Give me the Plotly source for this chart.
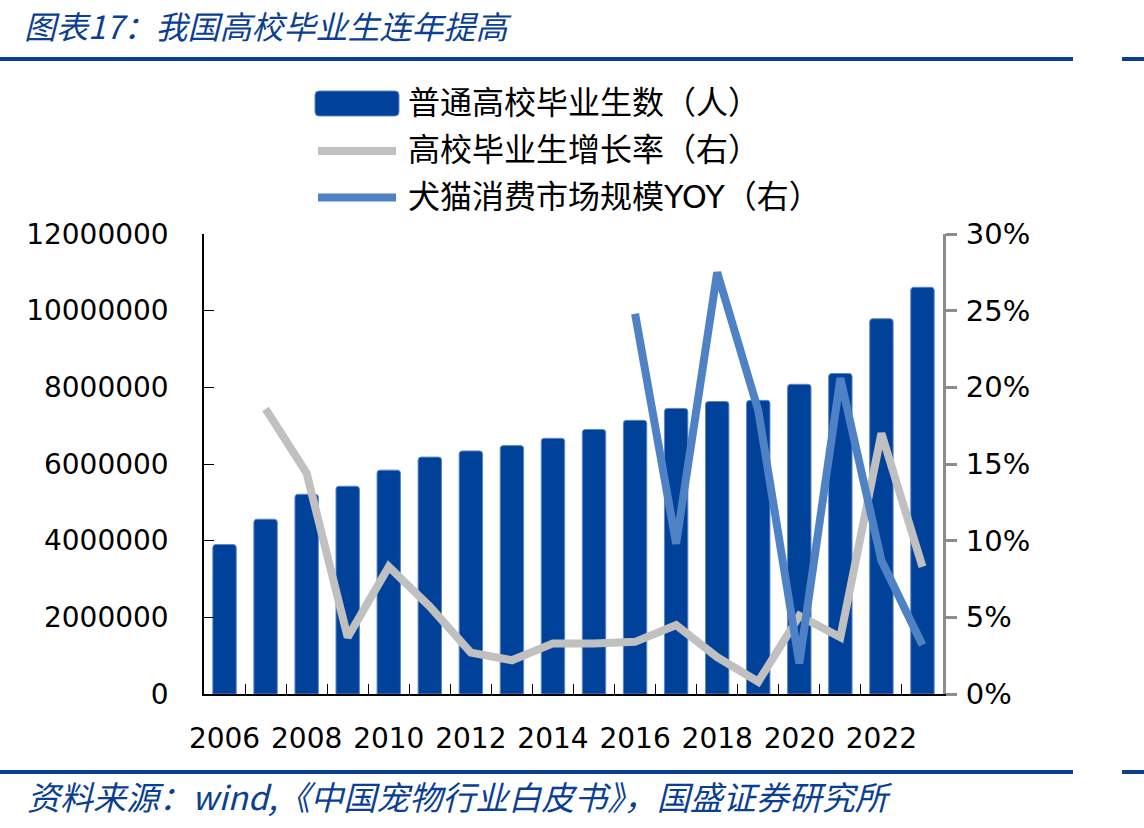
import plotly.graph_objects as go

# ---------------- data ----------------
years = list(range(2006, 2024))
graduates = [3900000, 4560000, 5210000, 5420000, 5840000, 6180000, 6340000, 6480000, 6670000,
             6900000, 7140000, 7450000, 7630000, 7660000, 8080000, 8360000, 9790000, 10610000]
growth_years = list(range(2007, 2024))
grad_growth = [0.186, 0.144, 0.037, 0.083, 0.057, 0.027, 0.022, 0.033, 0.033,
               0.034, 0.045, 0.024, 0.008, 0.051, 0.037, 0.170, 0.083]
pet_years = list(range(2016, 2024))
pet_yoy = [0.248, 0.098, 0.275, 0.185, 0.020, 0.206, 0.087, 0.032]
x_label_years = list(range(2006, 2023, 2))
x_tick_labels = [str(y) for y in x_label_years]
series_names = ["普通高校毕业生数（人）", "高校毕业生增长率（右）", "犬猫消费市场规模YOY（右）"]
title_text = "图表17：我国高校毕业生连年提高"
source_text = "资料来源：wind,《中国宠物行业白皮书》，国盛证券研究所"

# ---------------- style ----------------
BAR_C = "#00419A"
GRAY_C = "#C0C0C0"
BLUE_C = "#4F81C5"
HEAD_C = "#0B3F94"
AXIS_GRAY = "#8C8C8C"
NUM_FONT = "DejaVu Sans"
CJK_FONT = "Noto Sans CJK SC"

W, H = 1144, 828
L, R, T, B = 204, 943, 234, 694


def px(x):
    return (x - L) / (R - L)


def py(y):
    return (B - y) / (B - T)


fig = go.Figure()
fig.add_trace(go.Bar(
    x=years, y=graduates, name=series_names[0], width=0.57,
    marker=dict(color=BAR_C, line=dict(color="#5B87C9", width=1), cornerradius=3),
    showlegend=False, hoverinfo="x+y"))
fig.add_trace(go.Scatter(
    x=growth_years, y=grad_growth, name=series_names[1], yaxis="y2", mode="lines",
    line=dict(color=GRAY_C, width=8), showlegend=False))
fig.add_trace(go.Scatter(
    x=pet_years, y=pet_yoy, name=series_names[2], yaxis="y2", mode="lines",
    line=dict(color=BLUE_C, width=8), showlegend=False))
# helper (invisible) trace carrying the boundary tick axis
fig.add_trace(go.Scatter(x=[], y=[], xaxis="x2", yaxis="y", showlegend=False, hoverinfo="skip"))

xr = [years[0] - 0.5, years[-1] + 0.5]

fig.update_layout(
    width=W, height=H,
    margin=dict(l=L, r=W - R, t=T, b=H - B, pad=0),
    paper_bgcolor="white", plot_bgcolor="white",
    showlegend=False,
    xaxis=dict(range=xr, tickmode="array", tickvals=x_label_years, ticktext=x_tick_labels,
               ticks="", showline=True, linecolor="black", linewidth=1.5,
               showgrid=False, zeroline=False, ticklabelstandoff=19,
               tickfont=dict(family=NUM_FONT, size=28, color="black")),
    xaxis2=dict(range=xr, overlaying="x", anchor="y", side="bottom", tickmode="array",
                tickvals=[y + 0.5 for y in years[:-1]], ticks="inside", ticklen=10,
                tickwidth=1.2, tickcolor="black", showticklabels=False, showline=False,
                showgrid=False, zeroline=False),
    yaxis=dict(range=[0, 12000000], dtick=2000000, tickformat="d", ticks="inside",
               ticklen=10, tickwidth=1.2, tickcolor="black", showline=True,
               linecolor="black", linewidth=1.5, showgrid=False, zeroline=False,
               ticklabelstandoff=28,
               tickfont=dict(family=NUM_FONT, size=28, color="black")),
    yaxis2=dict(range=[0, 0.30], dtick=0.05, tickformat=".0%", overlaying="y", side="right",
                ticks="outside", ticklen=11, tickwidth=3, tickcolor=AXIS_GRAY,
                showline=True, linecolor=AXIS_GRAY, linewidth=3, showgrid=False,
                zeroline=False, ticklabelstandoff=3,
                tickfont=dict(family=NUM_FONT, size=29, color="black")),
)

shapes = []
# header and footer rules
for yy in (59, 772):
    shapes.append(dict(type="line", xref="paper", yref="paper", x0=px(0), x1=px(1073),
                       y0=py(yy), y1=py(yy), line=dict(color=HEAD_C, width=4)))
    shapes.append(dict(type="line", xref="paper", yref="paper", x0=px(1122), x1=px(1144),
                       y0=py(yy), y1=py(yy), line=dict(color=HEAD_C, width=4)))

# custom legend symbols
x0, x1, y0, y1, r = 315, 399, 91, 116, 4
path = (f"M{px(x0 + r)},{py(y0)} L{px(x1 - r)},{py(y0)} Q{px(x1)},{py(y0)} {px(x1)},{py(y0 + r)} "
        f"L{px(x1)},{py(y1 - r)} Q{px(x1)},{py(y1)} {px(x1 - r)},{py(y1)} "
        f"L{px(x0 + r)},{py(y1)} Q{px(x0)},{py(y1)} {px(x0)},{py(y1 - r)} "
        f"L{px(x0)},{py(y0 + r)} Q{px(x0)},{py(y0)} {px(x0 + r)},{py(y0)} Z")
shapes.append(dict(type="path", xref="paper", yref="paper", path=path,
                   fillcolor=BAR_C, line=dict(color="#5B87C9", width=1)))
for yy, col in ((151, GRAY_C), (197.5, BLUE_C)):
    shapes.append(dict(type="line", xref="paper", yref="paper", x0=px(318), x1=px(396),
                       y0=py(yy), y1=py(yy), line=dict(color=col, width=8)))

annotations = []
for yy, name in zip((103, 150, 197), series_names):
    annotations.append(dict(xref="paper", yref="paper", x=px(406), y=py(yy), text=name,
                            showarrow=False, xanchor="left", yanchor="middle",
                            font=dict(family=f"{NUM_FONT}, {CJK_FONT}", size=32, color="black")))
annotations.append(dict(xref="paper", yref="paper", x=px(22), y=py(25), text=title_text,
                        showarrow=False, xanchor="left", yanchor="middle",
                        font=dict(family=CJK_FONT, size=32, color=HEAD_C, style="italic")))
annotations.append(dict(xref="paper", yref="paper", x=px(25), y=py(796), text=source_text,
                        showarrow=False, xanchor="left", yanchor="middle",
                        font=dict(family=CJK_FONT, size=33, color=HEAD_C, style="italic")))

fig.update_layout(shapes=shapes, annotations=annotations)
fig.write_html("out.html")
